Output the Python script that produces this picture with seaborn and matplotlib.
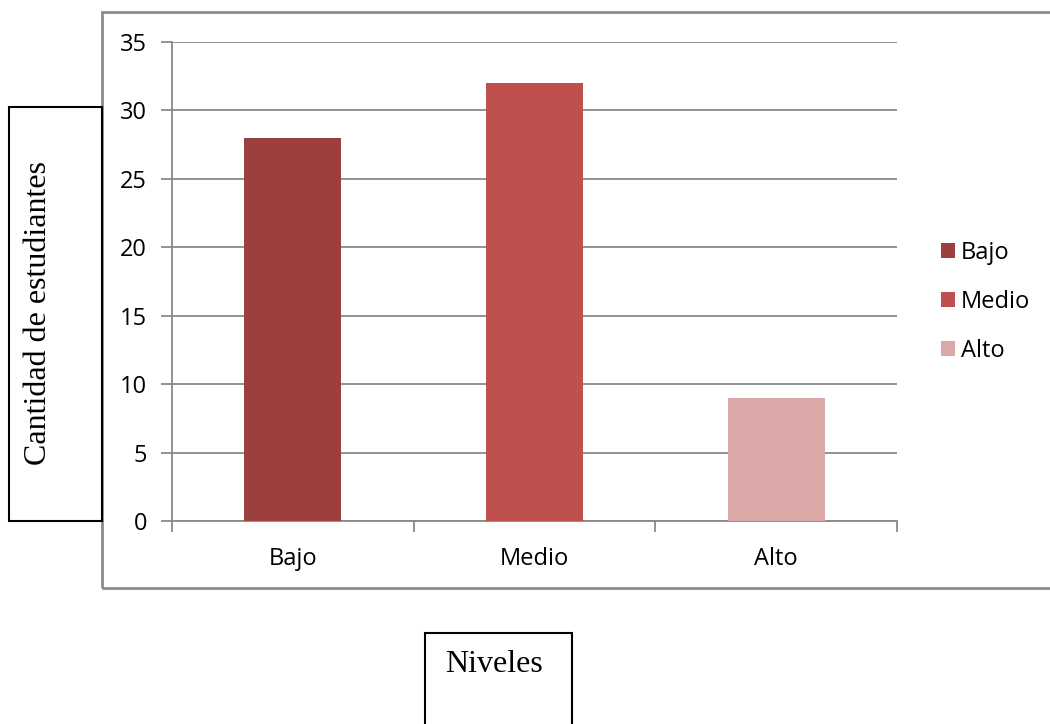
import matplotlib
matplotlib.use("Agg")
import matplotlib.pyplot as plt
from matplotlib.patches import Rectangle
import seaborn as sns
import pandas as pd

# Niveles de los estudiantes
niveles = ["Bajo", "Medio", "Alto"]
cantidad = [28, 32, 9]
colores = ["#9c403f", "#c0504d", "#d9a8a7"]
y_ticks = [0, 5, 10, 15, 20, 25, 30, 35]

sns.set_theme(style="white")
plt.rcParams["font.family"] = ["Open Sans", "DejaVu Sans"]
plt.rcParams["text.color"] = "black"
plt.rcParams["xtick.labelcolor"] = "black"
plt.rcParams["ytick.labelcolor"] = "black"

W, H = 1050, 724
fig = plt.figure(figsize=(W / 100, H / 100), dpi=100)

def fx(px):
    return px / W

def fy(py):
    return 1 - py / H

ax = fig.add_axes([fx(172), fy(521), fx(897) - fx(172), fy(42) - fy(521)])

df = pd.DataFrame({"Nivel": niveles, "Cantidad": cantidad})
sns.barplot(data=df, x="Nivel", y="Cantidad", hue="Nivel", palette=colores,
            order=niveles, hue_order=niveles, width=0.4, dodge=False,
            legend=False, ax=ax, saturation=1, linewidth=0, zorder=3)

grid_c = "#898989"
ax.set_ylim(0, 35)
ax.set_xlim(-0.5, 2.5)
ax.set_yticks(y_ticks)
ax.set_yticklabels([str(v) for v in y_ticks], fontsize=17, color="black")
ax.yaxis.grid(True, color=grid_c, linewidth=1.3, zorder=0)
ax.xaxis.grid(False)
ax.tick_params(axis="y", length=8, width=1.3, color=grid_c, pad=10, left=True)
ax.set_xticks(range(len(niveles)))
ax.set_xticklabels(niveles, fontsize=17, color="black")
ax.tick_params(axis="x", which="major", length=0, pad=19)
ax.set_xticks([-0.5, 0.5, 1.5, 2.5], minor=True)
ax.tick_params(axis="x", which="minor", length=8, width=1.3, color=grid_c, bottom=True)
for side in ["top", "right"]:
    ax.spines[side].set_visible(False)
for side in ["left", "bottom"]:
    ax.spines[side].set_color(grid_c)
    ax.spines[side].set_linewidth(1.3)
ax.set_xlabel("")
ax.set_ylabel("")

# Leyenda
handles = [Rectangle((0, 0), 1, 1, facecolor=c, edgecolor="none") for c in colores]
fig.legend(handles, niveles, loc="center left", bbox_to_anchor=(fx(929), fy(302)),
           frameon=False, fontsize=17, handlelength=0.6, handleheight=0.6,
           handletextpad=0.25, labelspacing=1.05, borderpad=0)

# Marco del gráfico
fig.patches.append(Rectangle((fx(102), fy(588)), fx(1060) - fx(102), fy(12) - fy(588),
                             transform=fig.transFigure, fill=False,
                             edgecolor="#8c8c8c", linewidth=2, zorder=0))

# Título del eje Y en su recuadro
fig.patches.append(Rectangle((fx(9), fy(521)), fx(102) - fx(9), fy(107) - fy(521),
                             transform=fig.transFigure, facecolor="white",
                             edgecolor="black", linewidth=1.5, zorder=1))
fig.text(fx(39), fy(313), "Cantidad de estudiantes", rotation=90,
         ha="center", va="center", fontsize=23, color="black",
         family=["Liberation Serif", "DejaVu Serif"])

# Título del eje X en su recuadro
fig.patches.append(Rectangle((fx(425), fy(740)), fx(572) - fx(425), fy(633) - fy(740),
                             transform=fig.transFigure, facecolor="white",
                             edgecolor="black", linewidth=1.5, zorder=1))
fig.text(fx(494), fy(664), "Niveles", ha="center", va="center", fontsize=23,
         color="black", family=["Liberation Serif", "DejaVu Serif"])

fig.savefig("out.png", dpi=100)
